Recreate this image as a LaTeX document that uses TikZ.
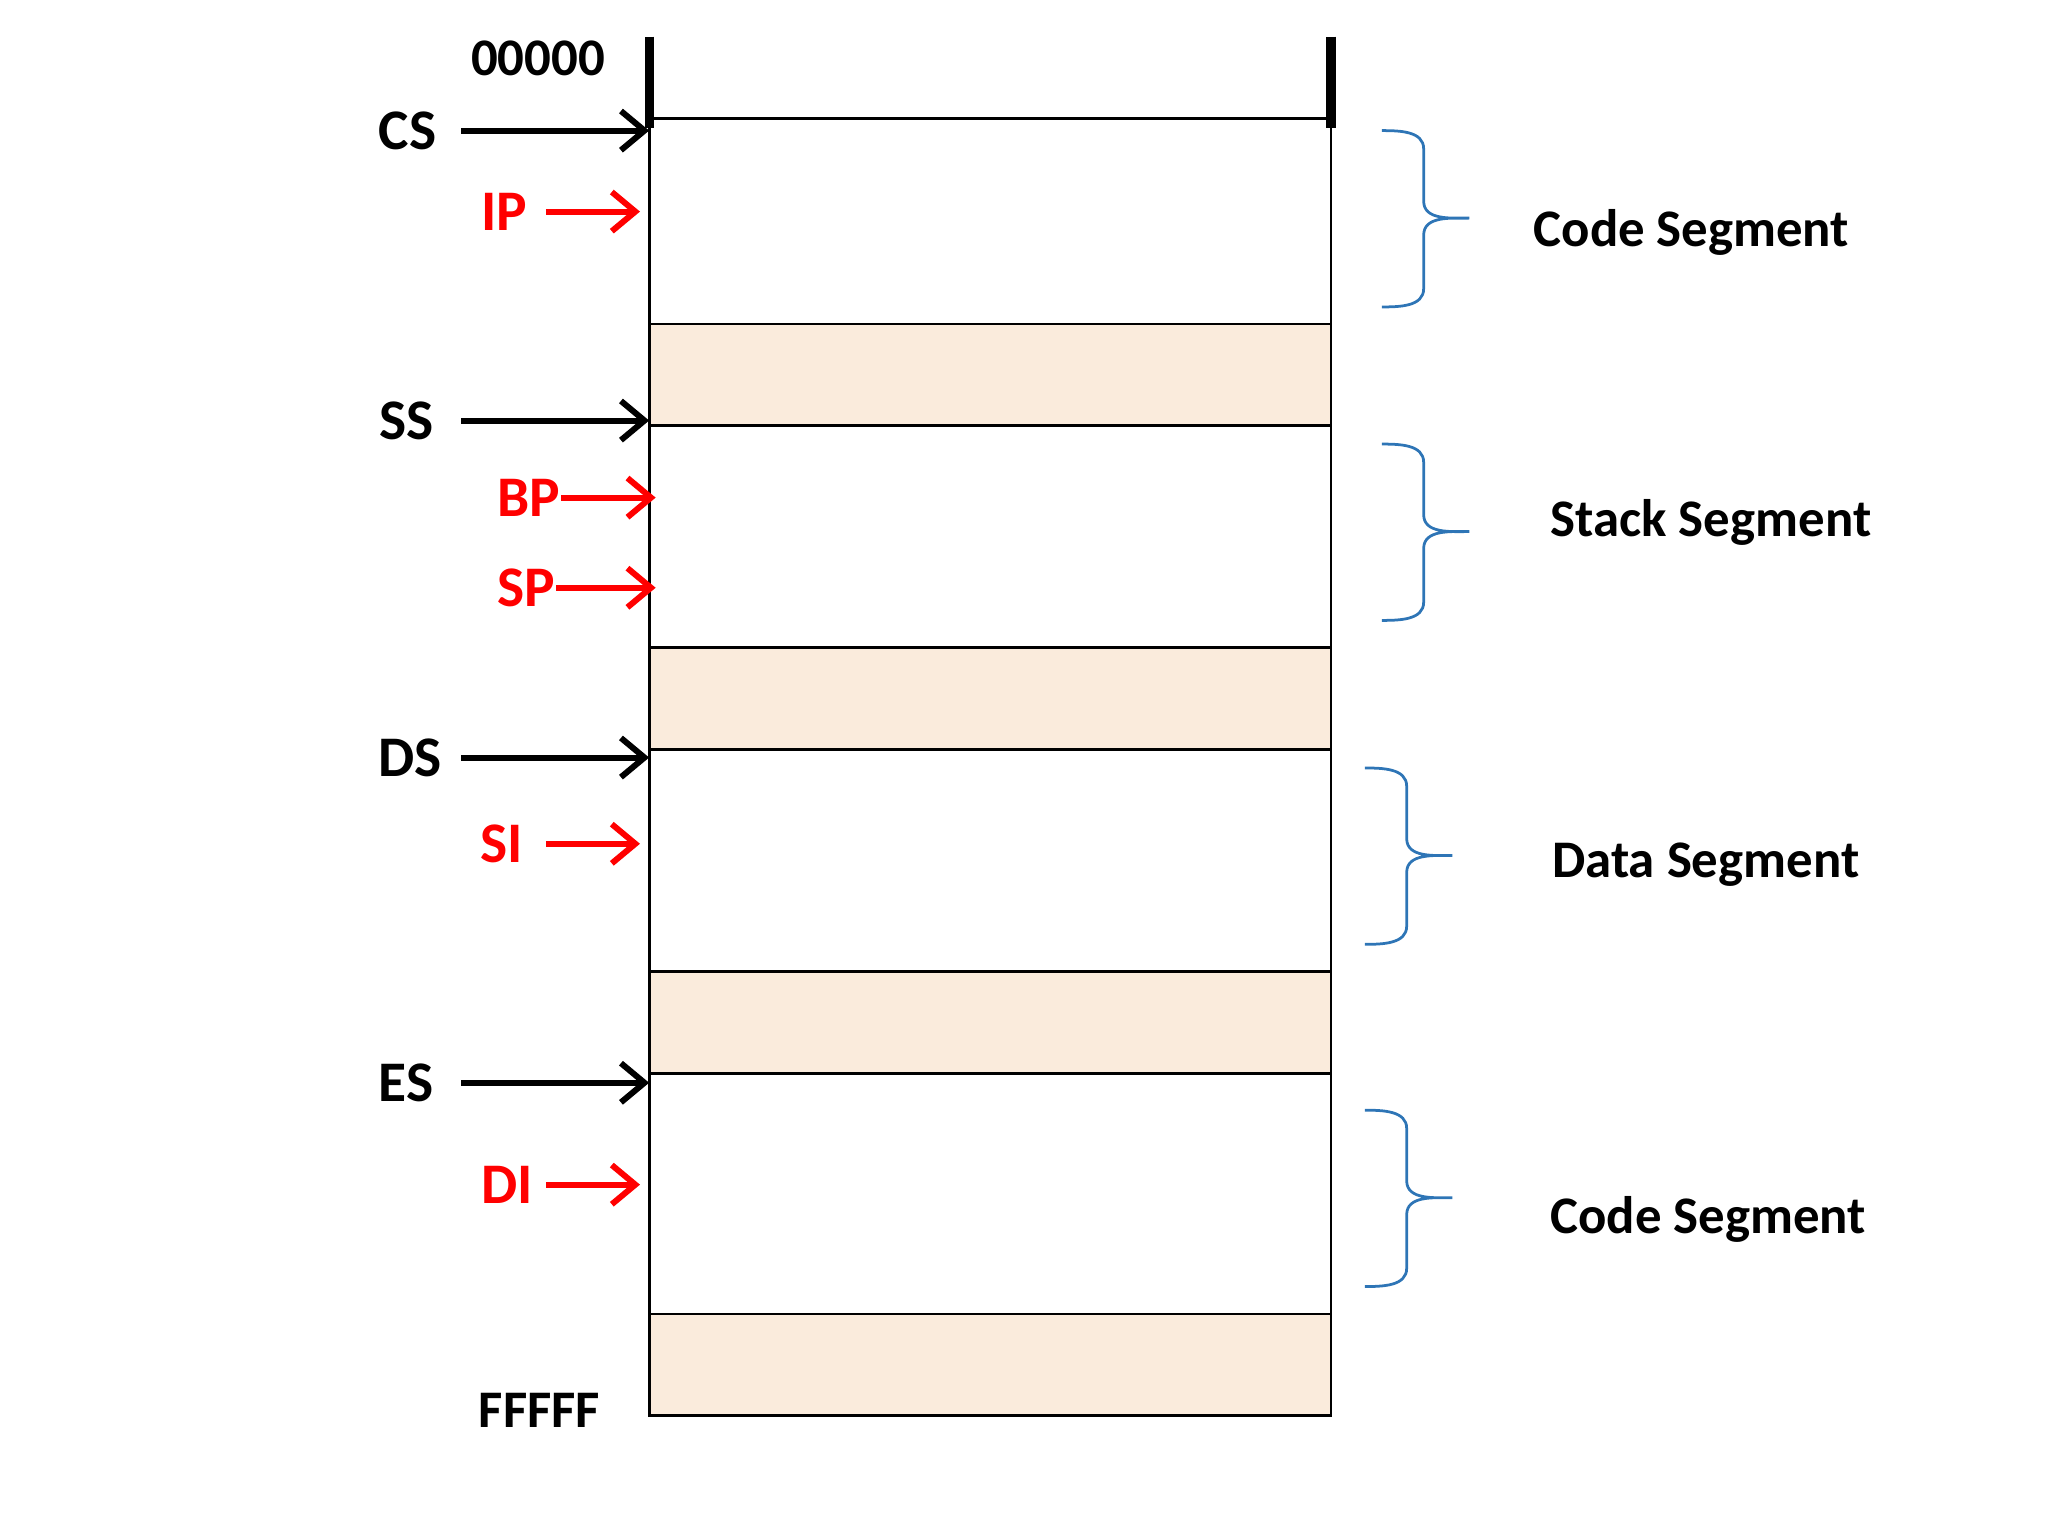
\documentclass[tikz,border=0pt]{standalone}
\usepackage{fontspec}
\setmainfont{Carlito}
\usetikzlibrary{arrows.meta,positioning}
\definecolor{bandfill}{HTML}{FAEBDC}
\definecolor{bracecol}{HTML}{2E75B6}
\begin{document}
\begin{tikzpicture}[x=0.01cm,y=-0.01cm]

\tikzset{reg/.style={font=\fontsize{12.5}{15}\selectfont\bfseries,inner sep=0pt},
ptr/.style={reg,text=red},
addr/.style={font=\fontsize{11.5}{14}\selectfont\bfseries,inner sep=0pt},
segname/.style={font=\fontsize{11.5}{14}\selectfont\bfseries,inner sep=0pt},
band/.style={fill=bandfill,draw=black,line width=0.6pt},
cell/.style={fill=white,draw=black,line width=0.6pt},
segptr/.style={-{Straight Barb[length=1.8mm,width=3mm,line width=1.3pt]},line width=1.3pt},
offptr/.style={segptr,red},
segbrace/.style={draw=bracecol,line width=0.6pt}}

\useasboundingbox (0,0) rectangle (1568,1176);

% Memory cells
\draw[cell] (497,91) rectangle (1019,248);
\draw[band] (497,248) rectangle (1019,326);
\draw[cell] (497,326) rectangle (1019,496);
\draw[band] (497,496) rectangle (1019,574);
\draw[cell] (497,574) rectangle (1019,744);
\draw[band] (497,744) rectangle (1019,822);
\draw[cell] (497,822) rectangle (1019,1006);
\draw[band] (497,1006) rectangle (1019,1084);
\draw[line width=2pt] (497,28) -- (497,98);
\draw[line width=2pt] (1019,28) -- (1019,98);

% Addresses
\node (top) [addr] at (412,45) {00000};
\node (bot) [addr] at (413,1080) {FFFFF};

% Segment registers
\node (cs) [reg] at (312,100) {CS};
\node (ss) [reg] at (311,322) {SS};
\node (ds) [reg] at (314,580) {DS};
\node (es) [reg] at (311,829) {ES};
\coordinate (csT) at (497,100);
\coordinate (ssT) at (497,322);
\coordinate (dsT) at (497,580);
\coordinate (esT) at (497,829);
\draw[segptr] (353,100) -- (csT);
\draw[segptr] (353,322) -- (ssT);
\draw[segptr] (353,580) -- (dsT);
\draw[segptr] (353,829) -- (esT);

% Offset registers
\node (ip) [ptr] at (386,162) {IP};
\node (bp) [ptr] at (405,381) {BP};
\node (sp) [ptr] at (403,450) {SP};
\node (si) [ptr] at (384,646) {SI};
\node (di) [ptr] at (388,907) {DI};
\coordinate (ipT) at (490,162);
\coordinate (bpT) at (502,381);
\coordinate (spT) at (502,450);
\coordinate (siT) at (490,646);
\coordinate (diT) at (490,907);
\draw[offptr] (418,162) -- (ipT);
\draw[offptr] (bp.east) -- (bpT);
\draw[offptr] (sp.east) -- (spT);
\draw[offptr] (418,646) -- (siT);
\draw[offptr] (418,907) -- (diT);

% Braces and names
\foreach \bx/\by in {1058/100,1058/340,1045/588,1045/850}{
  \draw[segbrace] (\bx,\by) to[out=0,in=90] (\bx+32,\by+14) -- (\bx+32,\by+54)
    to[out=-90,in=180] (\bx+67,\by+67) to[out=180,in=90] (\bx+32,\by+80)
    -- (\bx+32,\by+121) to[out=-90,in=0] (\bx,\by+135);
}
\node (code1) [segname] at (1295,178) {Code Segment};
\node (stack) [segname] at (1310,400) {Stack Segment};
\node (data) [segname] at (1306,662) {Data Segment};
\node (code2) [segname] at (1308,934) {Code Segment};

\end{tikzpicture}
\end{document}
